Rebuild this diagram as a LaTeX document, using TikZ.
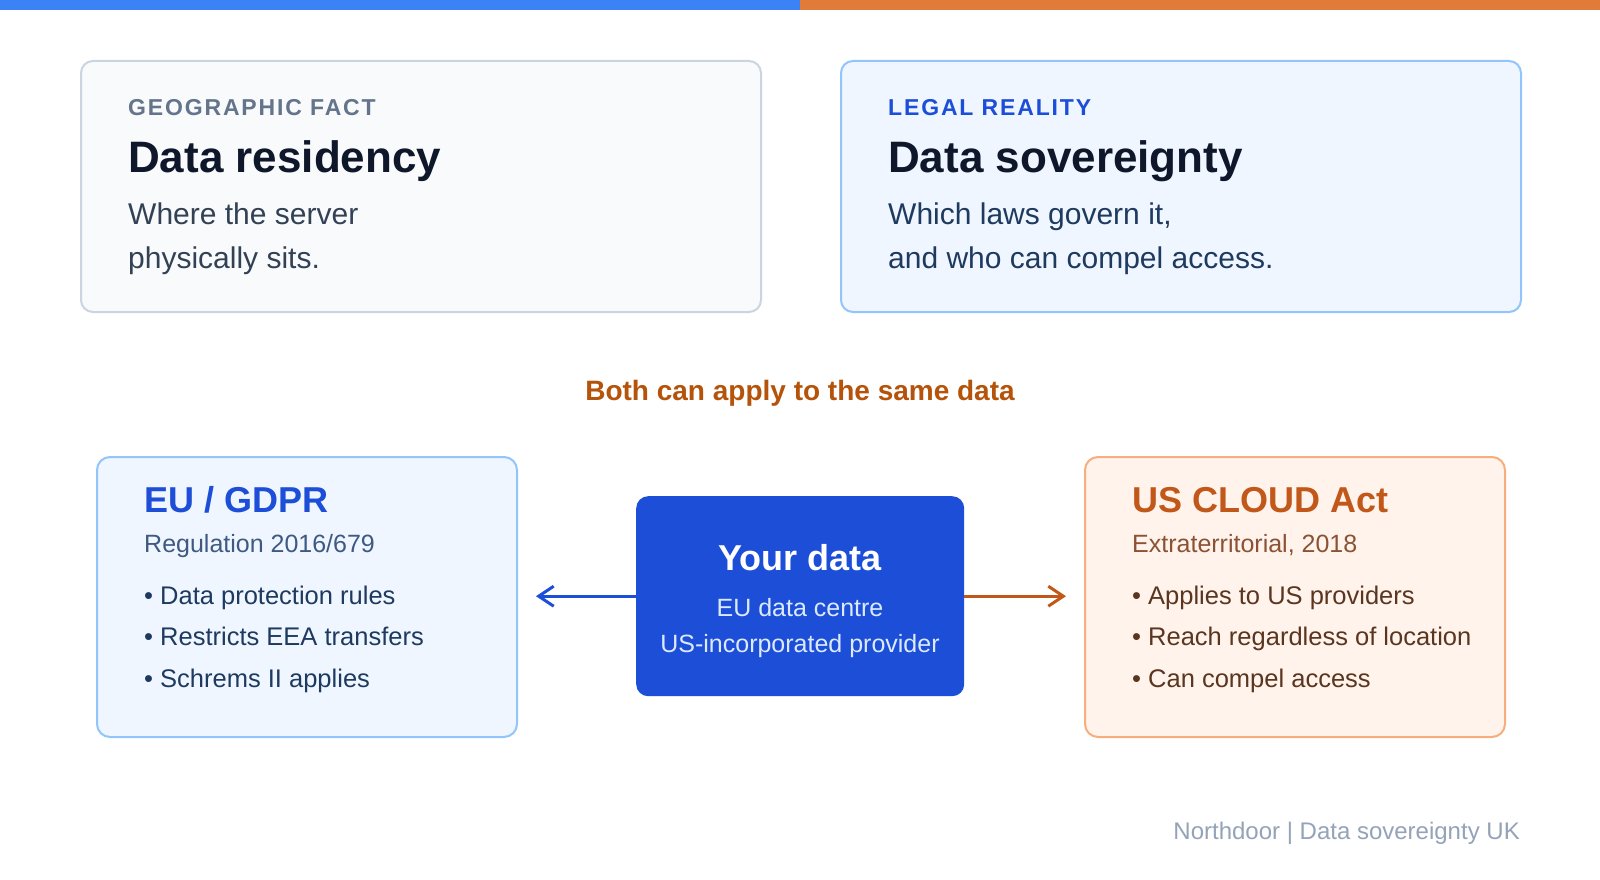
\documentclass[tikz,border=0pt]{standalone}
\usepackage{fontspec}
\setmainfont{Liberation Sans}
\usetikzlibrary{arrows.meta}

\definecolor{barblue}{HTML}{3B82F6}
\definecolor{barorange}{HTML}{E07B39}
\definecolor{slatefill}{HTML}{F8FAFC}
\definecolor{slateline}{HTML}{CBD5E1}
\definecolor{slatemid}{HTML}{64748B}
\definecolor{slatedark}{HTML}{334155}
\definecolor{ink}{HTML}{0F172A}
\definecolor{bluefill}{HTML}{EFF6FF}
\definecolor{blueline}{HTML}{93C5FD}
\definecolor{bluedeep}{HTML}{1D4ED8}
\definecolor{bluetext}{HTML}{1E3A5F}
\definecolor{bluesub}{HTML}{3E5A82}
\definecolor{bluepale}{HTML}{DBEAFE}
\definecolor{orangefill}{HTML}{FFF3EB}
\definecolor{orangeline}{HTML}{F6AE7F}
\definecolor{orangedeep}{HTML}{C2571A}
\definecolor{orangesub}{HTML}{8B5234}
\definecolor{browntext}{HTML}{5A3520}
\definecolor{bridge}{HTML}{B45309}
\definecolor{footgrey}{HTML}{94A3B8}

\newcommand\pxfont[1]{\fontsize{#1}{#1}\selectfont}

\def\cardW{680}
\def\cardH{251}
\def\lawW{420}
\def\lawH{280}

\begin{document}
\begin{tikzpicture}[x=1pt, y=-1pt, >={Straight Barb[length=15pt,width=20pt,line width=3pt]},
    card/.style={draw, line width=2pt, rounded corners=12pt, inner sep=0pt,
      minimum width=\cardW, minimum height=\cardH, anchor=north west},
    lawbox/.style={draw, line width=2pt, rounded corners=13pt, inner sep=0pt,
      minimum width=\lawW, minimum height=\lawH, anchor=north west},
    txt/.style={inner sep=0pt, anchor=base west},
    kicker/.style={txt, font=\pxfont{23}\bfseries\addfontfeature{LetterSpace=8}},
    headline/.style={txt, font=\pxfont{44}\bfseries, text=ink},
    body/.style={txt, font=\pxfont{30}},
    lawtitle/.style={txt, font=\pxfont{36}\bfseries},
    lawsub/.style={txt, font=\pxfont{25}},
    bullet/.style={txt, font=\pxfont{25.5}},
    link/.style={->, line width=3pt, shorten >=18pt}]
  \useasboundingbox (0,0) rectangle (1600,880);
  \fill[white] (0,0) rectangle (1600,880);

  % top bar
  \fill[barblue] (0,0) rectangle (800,10);
  \fill[barorange] (800,0) rectangle (1600,10);

  % residency vs sovereignty
  \node[card, fill=slatefill, draw=slateline] (residency) at (80,60) {};
  \node[kicker, text=slatemid] (residencykicker) at (128,116) {GEOGRAPHIC FACT};
  \node[headline] (residencytitle) at (128,172) {Data residency};
  \node[body, text=slatedark] (residencyline1) at (128,224) {Where the server};
  \node[body, text=slatedark] (residencyline2) at (128,268) {physically sits.};

  \node[card, fill=bluefill, draw=blueline] (sovereignty) at (840,60) {};
  \node[kicker, text=bluedeep] (sovereigntykicker) at (888,116) {LEGAL REALITY};
  \node[headline] (sovereigntytitle) at (888,172) {Data sovereignty};
  \node[body, text=bluetext] (sovereigntyline1) at (888,224) {Which laws govern it,};
  \node[body, text=bluetext] (sovereigntyline2) at (888,268) {and who can compel access.};

  \node[inner sep=0pt, anchor=base, font=\pxfont{28}\bfseries, text=bridge] (bothapply) at (800,400)
    {Both can apply to the same data};

  % the two regimes
  \node[lawbox, fill=bluefill, draw=blueline] (gdpr) at (96,456) {};
  \node[lawtitle, text=bluedeep] (gdprtitle) at (144,512) {EU / GDPR};
  \node[lawsub, text=bluesub] (gdprsub) at (144,552) {Regulation 2016/679};
  \foreach \t [count=\i] in {Data protection rules, Restricts EEA transfers, Schrems II applies}
    \node[bullet, text=bluetext] (gdprpoint\i) at (144,{604+41.5*(\i-1)}) {• \t};

  \node[lawbox, fill=orangefill, draw=orangeline] (cloudact) at (1084,456) {};
  \node[lawtitle, text=orangedeep] (cloudacttitle) at (1132,512) {US CLOUD Act};
  \node[lawsub, text=orangesub] (cloudactsub) at (1132,552) {Extraterritorial, 2018};
  \foreach \t [count=\i] in {Applies to US providers, Reach regardless of location, Can compel access}
    \node[bullet, text=browntext] (cloudactpoint\i) at (1132,{604+41.5*(\i-1)}) {• \t};

  % the data in the middle
  \node[fill=bluedeep, rounded corners=12pt, minimum width=328, minimum height=200,
    inner sep=0pt, anchor=north west] (yourdata) at (636,496) {};
  \node[inner sep=0pt, anchor=base, font=\pxfont{36}\bfseries, text=white] (yourdatatitle) at (800,570) {Your data};
  \node[inner sep=0pt, anchor=base, font=\pxfont{25}, text=bluepale] (yourdataline1) at (800,616) {EU data centre};
  \node[inner sep=0pt, anchor=base, font=\pxfont{25}, text=bluepale] (yourdataline2) at (800,652) {US-incorporated provider};

  \draw[link, bluedeep] (yourdata.west) -- (yourdata.west -| gdpr.east);
  \draw[link, orangedeep] (yourdata.east) -- (yourdata.east -| cloudact.west);

  \node[inner sep=0pt, anchor=base east, font=\pxfont{24}, text=footgrey] (footer) at (1520,839)
    {Northdoor | Data sovereignty UK};
\end{tikzpicture}
\end{document}
